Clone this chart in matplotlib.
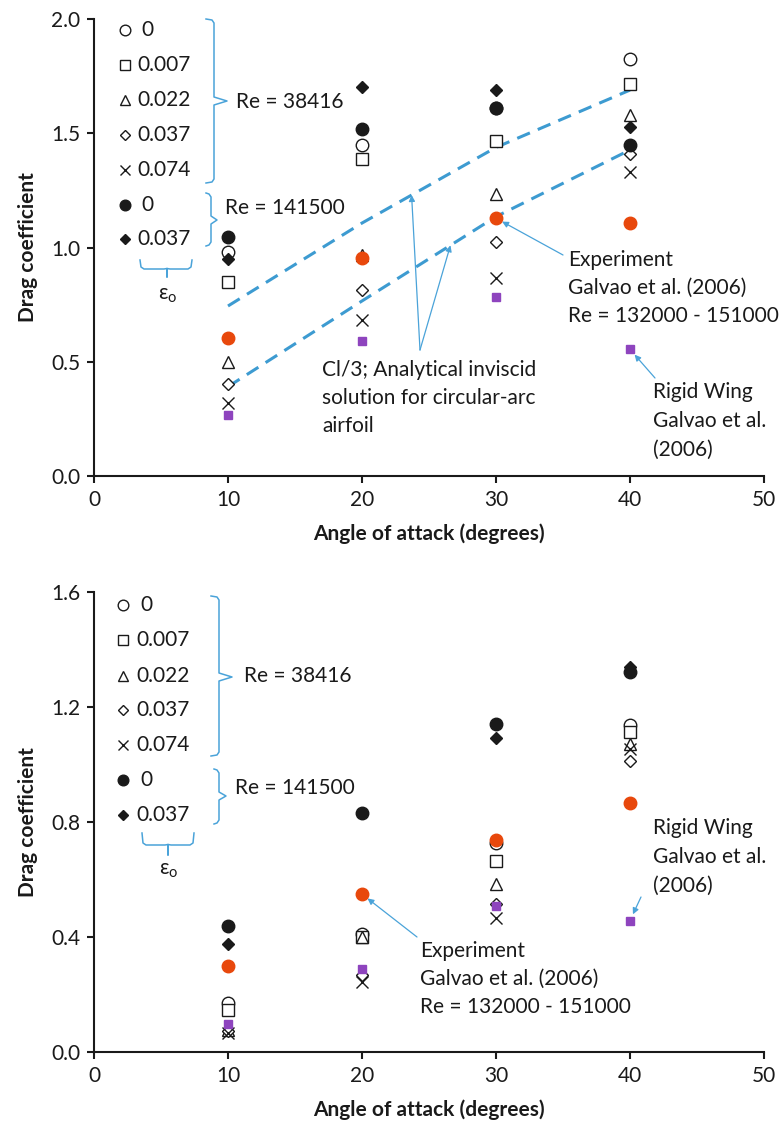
import matplotlib
matplotlib.use('Agg')
import numpy as np
import matplotlib.pyplot as plt

# angle of attack (degrees)
angles = [10, 20, 30, 40]

# top panel: drag coefficient, Re = 38416, eps_o = 0 / 0.007 / 0.022 / 0.037 / 0.074
top_lo_eps0 = [0.980, 1.447, 1.609, 1.825]
top_lo_eps007 = [0.849, 1.386, 1.466, 1.714]
top_lo_eps022 = [0.499, 0.965, 1.233, 1.580]
top_lo_eps037 = [0.403, 0.814, 1.025, 1.408]
top_lo_eps074 = [0.319, 0.683, 0.868, 1.329]
# Re = 141500, eps_o = 0 / 0.037
top_hi_eps0 = [1.046, 1.519, 1.609, 1.449]
top_hi_eps037 = [0.950, 1.704, 1.689, 1.526]
top_experiment = [0.604, 0.955, 1.128, 1.109]
top_rigid = [0.267, 0.592, 0.782, 0.554]
# Cl/3 analytical inviscid, circular-arc airfoil
top_cl3_upper = [0.744, 1.107, 1.438, 1.689]
top_cl3_lower = [0.391, 0.766, 1.135, 1.427]

# bottom panel
bot_lo_eps0 = [0.171, 0.410, 0.726, 1.137]
bot_lo_eps007 = [0.146, 0.399, 0.664, 1.114]
bot_lo_eps022 = [0.078, 0.400, 0.584, 1.070]
bot_lo_eps037 = [0.072, 0.268, 0.515, 1.012]
bot_lo_eps074 = [0.066, 0.245, 0.467, 1.053]
bot_hi_eps0 = [0.438, 0.830, 1.140, 1.323]
bot_hi_eps037 = [0.376, 0.830, 1.093, 1.339]
bot_experiment = [0.300, 0.549, 0.737, 0.867]
bot_rigid = [0.097, 0.289, 0.509, 0.457]

legend_labels = ['0', '0.007', '0.022', '0.037', '0.074', '0', '0.037']

W, H = 781, 1125
INK = '#1a1a1a'
BLUE = '#3d9bd1'
ARROW = '#4aa3d9'
ORANGE = '#e8480c'
PURPLE = '#8e44be'

plt.rcParams['font.family'] = ['Lato', 'DejaVu Sans']
plt.rcParams['mathtext.default'] = 'regular'

fig = plt.figure(figsize=(W / 100, H / 100), dpi=100)
ax_top = fig.add_axes([94 / W, 1 - 476 / H, 670 / W, 457 / H])
ax_bot = fig.add_axes([94 / W, 1 - 1052 / H, 670 / W, 460 / H])


def px(x, y):
    return (x / W, 1 - y / H)


open_kw = dict(ls='none', mfc='white', mec=INK, mew=1.0)
fill_kw = dict(ls='none', color=INK)
marker_styles = [('o', 9, open_kw), ('s', 8.5, open_kw), ('^', 9, open_kw),
                 ('D', 6, open_kw), ('x', 9, dict(ls='none', color=INK, mew=1.0)),
                 ('o', 9, fill_kw), ('D', 6, fill_kw)]


def draw_points(ax, series, exp, rigid):
    for vals, (m, ms, kw) in zip(series, marker_styles):
        ax.plot(angles, vals, marker=m, ms=ms, **kw)
    ax.plot(angles, exp, 'o', ms=9, color=ORANGE, ls='none')
    ax.plot(angles, rigid, 's', ms=6.3, color=PURPLE, ls='none')


def style_axes(ax, ymax, step):
    ax.set_xlim(0, 50)
    ax.set_ylim(0, ymax)
    ax.set_xticks(range(0, 51, 10))
    ax.set_yticks(np.arange(0, ymax + 1e-9, step))
    ax.yaxis.set_major_formatter(lambda v, pos: f'{v:.1f}')
    for s in ['top', 'right']:
        ax.spines[s].set_visible(False)
    for s in ['left', 'bottom']:
        ax.spines[s].set_linewidth(1.5)
        ax.spines[s].set_color(INK)
    ax.tick_params(direction='out', length=5, width=1.5, labelsize=15,
                   colors=INK, pad=5)
    ax.set_xlabel('Angle of attack (degrees)', fontsize=15, fontweight='bold',
                  color=INK, labelpad=10)
    ax.set_ylabel('Drag coefficient', fontsize=15, fontweight='bold',
                  color=INK, labelpad=9)


def fig_line(xs, ys, **kw):
    pts = [px(x, y) for x, y in zip(xs, ys)]
    fig.add_artist(plt.Line2D([p[0] for p in pts], [p[1] for p in pts],
                              transform=fig.transFigure, color=ARROW, lw=1.1, **kw))


def brace_v(x, y0, y1, ytip, xtip, hook):
    fig_line([x - hook, x - 2, x, x, xtip, x, x, x - 2, x - hook],
             [y0, y0 + 1, y0 + 4, ytip - 4, ytip, ytip + 4, y1 - 4, y1 - 1, y1])


def brace_h(x0, x1, ytop, yline, xtip, ytip):
    fig_line([x0, x0 + 1, x0 + 4, xtip - 3, xtip, xtip, xtip, xtip + 3, x1 - 4, x1 - 1, x1],
             [ytop, yline - 2, yline, yline, yline - 0.5, ytip, yline - 0.5, yline, yline, yline - 2, ytop])


def legend_block(mx, tx, rows, brace1, brace2, epsb):
    for (m, ms, kw), lab, ry in zip(marker_styles, legend_labels, rows):
        fig.add_artist(plt.Line2D([px(mx, ry)[0]], [px(mx, ry)[1]], marker=m,
                                  ms=ms * 0.85, transform=fig.transFigure, **kw))
        off = 4.5 if lab == '0' else 0
        fig.text(*px(tx + off, ry), lab, fontsize=15, color=INK, va='center', ha='left')
    x, y0, y1, ytip, xtip, tx1, ty1 = brace1
    brace_v(x, y0, y1, ytip, xtip, 8)
    fig.text(*px(tx1, ty1), 'Re = 38416', fontsize=15, color=INK, va='center')
    x, y0, y1, ytip, xtip, tx2, ty2 = brace2
    brace_v(x, y0, y1, ytip, xtip, 5)
    fig.text(*px(tx2, ty2), 'Re = 141500', fontsize=15, color=INK, va='center')
    x0, x1, ytop, yline, xt, yt, ly = epsb
    brace_h(x0, x1, ytop, yline, xt, yt)
    fig.text(*px(xt + 1, ly), r'ε$_{o}$', fontsize=15, color=INK, va='center', ha='center')


def text_lines(x, ys, lines):
    for y, line in zip(ys, lines):
        fig.text(*px(x, y), line, fontsize=15, color=INK, va='center', ha='left')


def arrow(ax, xy, start, shrink=0):
    ax.annotate('', xy=xy, xycoords='data', xytext=px(*start), textcoords='figure fraction',
                arrowprops=dict(arrowstyle='-|>', color=ARROW, lw=0.9, mutation_scale=9,
                                shrinkA=0, shrinkB=shrink), annotation_clip=False)


exp_lines = ['Experiment', 'Galvao et al. (2006)', 'Re = 132000 - 151000']
rigid_lines = ['Rigid Wing', 'Galvao et al.', '(2006)']

# ---- top panel ----
ax = ax_top
ax.plot(angles, top_cl3_upper, color=BLUE, lw=2.2, ls=(0, (4.5, 2.8)))
ax.plot(angles, top_cl3_lower, color=BLUE, lw=2.2, ls=(0, (4.5, 2.8)))
draw_points(ax, [top_lo_eps0, top_lo_eps007, top_lo_eps022, top_lo_eps037, top_lo_eps074,
                 top_hi_eps0, top_hi_eps037], top_experiment, top_rigid)
style_axes(ax, 2.0, 0.5)

legend_block(125, 137, [30, 65, 100, 135, 170, 205, 239],
             (214, 19, 183, 101, 227, 236, 102),
             (211, 193, 246, 220, 217, 225, 208),
             (140, 192, 260, 269, 167, 277, 295))
text_lines(568, [260, 288, 316], exp_lines)
text_lines(653, [392, 421, 450], rigid_lines)
text_lines(322, [370, 398, 426], ['Cl/3; Analytical inviscid', 'solution for circular-arc', 'airfoil'])
arrow(ax, (30, top_experiment[2]), (563, 255), shrink=5)
arrow(ax, (40, top_rigid[3]), (655, 378), shrink=5)
arrow(ax, (23.7, np.interp(23.7, angles, top_cl3_upper)), (420, 350))
arrow(ax, (26.6, np.interp(26.6, angles, top_cl3_lower)), (420, 350))

# ---- bottom panel ----
ax = ax_bot
draw_points(ax, [bot_lo_eps0, bot_lo_eps007, bot_lo_eps022, bot_lo_eps037, bot_lo_eps074,
                 bot_hi_eps0, bot_hi_eps037], bot_experiment, bot_rigid)
style_axes(ax, 1.6, 0.4)

legend_block(123, 136, [605, 640, 676, 710, 745, 780, 815],
             (219, 596, 756, 677, 232, 244, 676),
             (219, 769, 824, 796, 226, 235, 788),
             (142, 194, 833, 845, 168, 855, 870))
text_lines(420, [951, 979, 1007], exp_lines)
text_lines(653, [828, 857, 886], rigid_lines)
arrow(ax, (20, bot_experiment[1]), (417, 937), shrink=5)
arrow(ax, (40, bot_rigid[3]), (641, 897), shrink=5)

fig.savefig('out.png', dpi=100)
